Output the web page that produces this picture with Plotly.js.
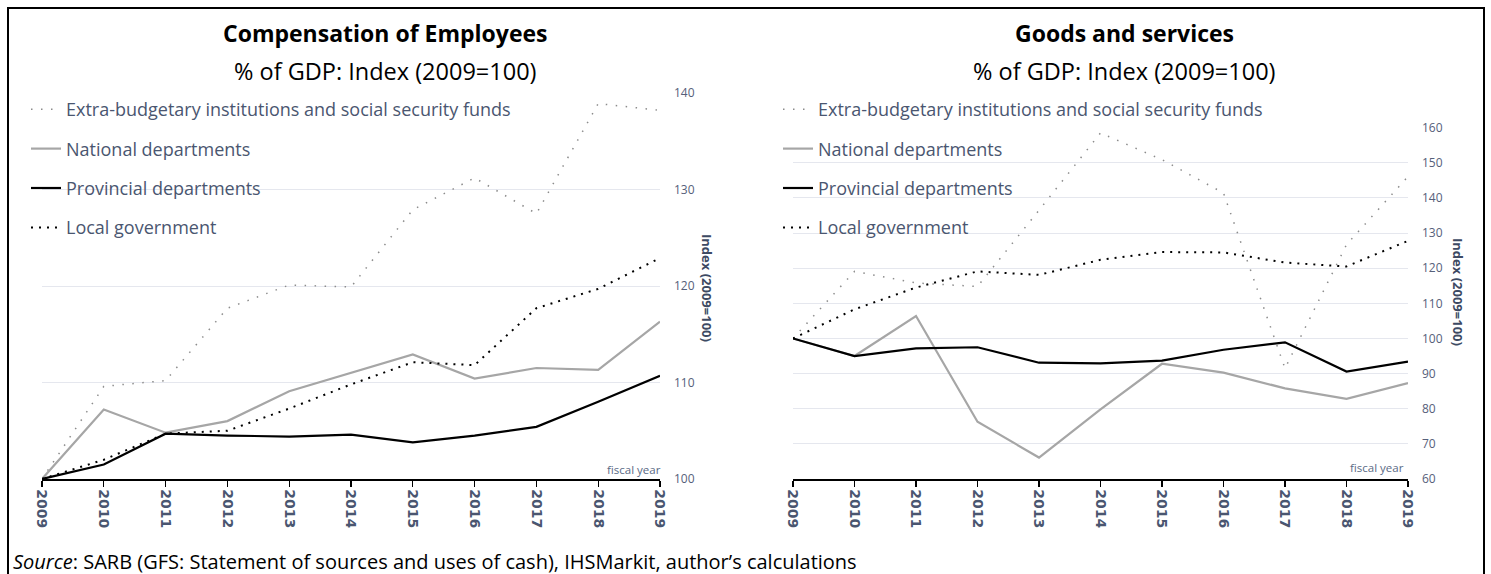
<!DOCTYPE html>
<html>
<head>
<meta charset="utf-8">
<script src="https://cdn.plot.ly/plotly-3.0.1.min.js"></script>
<style>
html,body{margin:0;padding:0;background:#fff;}
#chart{width:1491px;height:574px;}
</style>
</head>
<body>
<div id="chart"></div>
<script>
// ---- Data ----
const years = [2009, 2010, 2011, 2012, 2013, 2014, 2015, 2016, 2017, 2018, 2019];
const yearLabels = ["2009","2010","2011","2012","2013","2014","2015","2016","2017","2018","2019"];
const seriesNames = [
  "Extra-budgetary institutions and social security funds",
  "National departments",
  "Provincial departments",
  "Local government"
];

// Compensation of Employees (index, 2009=100)
const compExtra      = [100, 109.6, 110.2, 117.7, 120.1, 119.9, 127.9, 131.2, 127.5, 138.9, 138.2];
const compNational   = [100, 107.2, 104.8, 106.0, 109.1, 111.0, 112.9, 110.4, 111.5, 111.3, 116.3];
const compProvincial = [100, 101.5, 104.7, 104.5, 104.4, 104.6, 103.8, 104.5, 105.4, 108.0, 110.7];
const compLocal      = [100, 102.0, 104.7, 105.0, 107.3, 109.8, 112.1, 111.8, 117.7, 119.7, 122.9];

// Goods and services (index, 2009=100)
const gsExtra      = [100, 119.1, 115.8, 114.8, 136.5, 158.5, 150.9, 141.4, 91.5, 126.7, 146.1];
const gsNational   = [100, 95.0, 106.4, 76.3, 66.1, 79.8, 92.8, 90.3, 85.8, 82.8, 87.3];
const gsProvincial = [100, 95.0, 97.2, 97.5, 93.1, 92.9, 93.7, 96.8, 98.9, 90.6, 93.4];
const gsLocal      = [100, 108.3, 114.5, 119.1, 118.1, 122.4, 124.6, 124.5, 121.6, 120.5, 127.8];

// ---- Styles ----
const W = 1491, H = 574;
const styles = [
  {color: "#8c8c8c", width: 1.5, dash: "1.5px,8.5px"},
  {color: "#a6a6a6", width: 2.2, dash: "solid"},
  {color: "#000000", width: 2.2, dash: "solid"},
  {color: "#000000", width: 2, dash: "2px,6px"}
];

function makeTraces(valuesList, xa, ya, legendId, prefix) {
  return valuesList.map((vals, i) => ({
    type: "scatter",
    mode: "lines",
    x: years,
    y: vals,
    name: seriesNames[i],
    xaxis: xa,
    yaxis: ya,
    legend: legendId,
    legendgroup: prefix + i,
    line: {color: styles[i].color, width: styles[i].width, dash: styles[i].dash},
    hoverinfo: "skip"
  }));
}

const traces = []
  .concat(makeTraces([compExtra, compNational, compProvincial, compLocal], "x", "y", "legend", "L"))
  .concat(makeTraces([gsExtra, gsNational, gsProvincial, gsLocal], "x2", "y2", "legend2", "R"));

const px = v => v / W;
const py = v => 1 - v / H;

const xTickFont = {family: "DejaVu Sans", size: 14, color: "#4a5670", weight: "bold"};
const yTickFont = {family: "Open Sans", size: 12, color: "#56607a"};
const legendFont = {family: "Open Sans", size: 18, color: "#4a5670"};

function xAxis(domain, anchor) {
  return {
    domain: domain, anchor: anchor,
    range: [2009, 2019],
    tickmode: "array", tickvals: years, ticktext: yearLabels,
    tickangle: 90,
    ticks: "outside", ticklen: 6, tickwidth: 1.2, tickcolor: "#000",
    showline: true, linecolor: "#000", linewidth: 1.5,
    showgrid: false, zeroline: false,
    tickfont: xTickFont,
    fixedrange: true
  };
}
function yAxis(domain, anchor, range) {
  return {
    domain: domain, anchor: anchor,
    range: range, side: "right",
    dtick: 10, tick0: 0,
    ticks: "", showline: false, zeroline: false,
    showgrid: true, gridcolor: "#e5e7ee", gridwidth: 1,
    tickfont: yTickFont,
    ticklabelstandoff: 13,
    fixedrange: true
  };
}

const layout = {
  width: W, height: H, autosize: false,
  margin: {l: 0, r: 0, t: 0, b: 0},
  paper_bgcolor: "#fff", plot_bgcolor: "rgba(0,0,0,0)",
  font: {family: "Open Sans", color: "#000"},
  showlegend: true,
  xaxis: xAxis([px(42), px(660)], "y"),
  yaxis: yAxis([1 - 479 / H, 1 - 93 / H], "x", [100, 140]),
  xaxis2: xAxis([px(793), px(1408)], "y2"),
  yaxis2: yAxis([1 - 479 / H, 1 - 127.7 / H], "x2", [60, 160]),
  legend: {
    x: px(26), y: py(91), xanchor: "left", yanchor: "top",
    bgcolor: "rgba(0,0,0,0)", borderwidth: 0,
    font: legendFont, tracegroupgap: 13, itemwidth: 30, traceorder: "grouped"
  },
  legend2: {
    x: px(778), y: py(91), xanchor: "left", yanchor: "top",
    bgcolor: "rgba(0,0,0,0)", borderwidth: 0,
    font: legendFont, tracegroupgap: 13, itemwidth: 30, traceorder: "grouped"
  },
  annotations: [
    {xref: "paper", yref: "paper", x: px(385), y: py(33), xanchor: "center", yanchor: "middle",
     text: "<b>Compensation of Employees</b>", showarrow: false,
     font: {family: "Open Sans", size: 23, color: "#000"}},
    {xref: "paper", yref: "paper", x: px(385), y: py(71), xanchor: "center", yanchor: "middle",
     text: "% of GDP: Index (2009=100)", showarrow: false,
     font: {family: "Open Sans", size: 23.5, color: "#000"}},
    {xref: "paper", yref: "paper", x: px(1124), y: py(33), xanchor: "center", yanchor: "middle",
     text: "<b>Goods and services</b>", showarrow: false,
     font: {family: "Open Sans", size: 23, color: "#000"}},
    {xref: "paper", yref: "paper", x: px(1124), y: py(71), xanchor: "center", yanchor: "middle",
     text: "% of GDP: Index (2009=100)", showarrow: false,
     font: {family: "Open Sans", size: 23.5, color: "#000"}},
    {xref: "paper", yref: "paper", x: px(707), y: py(288), xanchor: "center", yanchor: "middle",
     text: "<b>Index (2009=100)</b>", textangle: 90, showarrow: false,
     font: {family: "Open Sans", size: 13, color: "#3d4a63"}},
    {xref: "paper", yref: "paper", x: px(1458), y: py(292), xanchor: "center", yanchor: "middle",
     text: "<b>Index (2009=100)</b>", textangle: 90, showarrow: false,
     font: {family: "Open Sans", size: 13, color: "#3d4a63"}},
    {xref: "x domain", yref: "y domain", x: 1, y: 0, xanchor: "right", yanchor: "bottom",
     text: "fiscal year", showarrow: false, xshift: 3, yshift: 0,
     font: {family: "Open Sans", size: 11.5, color: "#5a6a85"}},
    {xref: "x2 domain", yref: "y2 domain", x: 1, y: 0, xanchor: "right", yanchor: "bottom",
     text: "fiscal year", showarrow: false, xshift: -2, yshift: 2,
     font: {family: "Open Sans", size: 11.5, color: "#5a6a85"}},
    {xref: "paper", yref: "paper", x: px(11), y: py(561), xanchor: "left", yanchor: "middle",
     text: "<i>Source</i>: SARB (GFS: Statement of sources and uses of cash), IHSMarkit, author\u2019s calculations",
     showarrow: false, font: {family: "Open Sans", size: 20, color: "#000"}}
  ],
  shapes: [
    {type: "rect", xref: "paper", yref: "paper", x0: px(8), x1: px(1484), y0: -0.05, y1: py(8),
     line: {color: "#000", width: 2}, fillcolor: "rgba(0,0,0,0)", layer: "above"}
  ]
};

Plotly.newPlot("chart", traces, layout, {staticPlot: true, displayModeBar: false});
</script>
</body>
</html>
